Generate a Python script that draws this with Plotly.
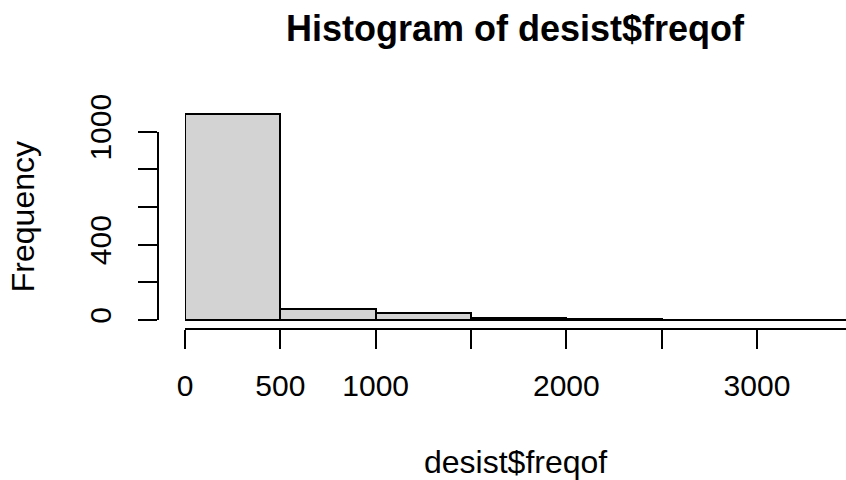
import plotly.graph_objects as go

# Data
bin_starts = [0, 500, 1000, 1500, 2000, 2500, 3000]
bin_width = 500
counts = [1092, 58, 37, 9, 6, 2, 1]

x_tickvals = [0, 500, 1000, 1500, 2000, 2500, 3000, 3500]
x_ticktext = ["0", "500", "1000", "", "2000", "", "3000", ""]
y_tickvals = [0, 200, 400, 600, 800, 1000]
y_ticktext = ["0", "", "400", "", "", "1000"]

title = "Histogram of desist$freqof"
x_title = "desist$freqof"
y_title = "Frequency"

W, H = 846, 480
FONT = "Liberation Sans, Arial, Helvetica, sans-serif"

# pixel geometry
x0_px = 185.0          # data x=0
px_per_x = 95.33 / 500
y0_px = 320.0          # data y=0
px_per_y = (320.0 - 131.7) / 1000
axis_line_px = 327.5   # bottom of main plot area (x-axis line)
top_px = 100.0

x_range = [0, (W - x0_px) / px_per_x]
y_range = [-(axis_line_px - y0_px) / px_per_y, (y0_px - top_px) / px_per_y]

centers = [s + bin_width / 2 for s in bin_starts]

fig = go.Figure()
fig.add_trace(go.Bar(
    x=centers, y=counts, width=[bin_width] * len(centers),
    marker=dict(color="#D3D3D3", line=dict(color="black", width=2)),
    showlegend=False, hoverinfo="skip",
))
# dummy trace for the detached R-style y axis
fig.add_trace(go.Scatter(x=[None], y=[None], xaxis="x", yaxis="y2",
                         showlegend=False, hoverinfo="skip"))

fig.update_layout(
    template="none",
    width=W, height=H,
    margin=dict(l=0, r=0, t=0, b=0, pad=0),
    paper_bgcolor="white", plot_bgcolor="rgba(0,0,0,0)",
    bargap=0,
    font=dict(family=FONT, color="black", size=30),
    xaxis=dict(
        domain=[x0_px / W, 1.0], range=x_range,
        tickvals=x_tickvals, ticktext=x_ticktext,
        ticks="outside", ticklen=19, tickwidth=2, tickcolor="black",
        showline=True, linewidth=2, linecolor="black",
        showgrid=False, zeroline=False, automargin=False,
        tickfont=dict(size=30, family=FONT, color="black"),
        ticklabelstandoff=11,
        anchor="y",
    ),
    yaxis=dict(
        domain=[(H - axis_line_px) / H, (H - top_px) / H], range=y_range,
        visible=False, showgrid=False, zeroline=False, automargin=False,
    ),
    yaxis2=dict(
        domain=[(H - y0_px) / H, (H - (y0_px - 1000 * px_per_y)) / H],
        range=[0, 1000],
        anchor="free", position=157.5 / W, side="left",
        tickvals=y_tickvals, ticktext=y_ticktext,
        ticks="outside", ticklen=19, tickwidth=2, tickcolor="black",
        showline=True, linewidth=2, linecolor="black",
        showgrid=False, zeroline=False, automargin=False,
        tickangle=-90,
        tickfont=dict(size=30, family=FONT, color="black"),
        ticklabelstandoff=15,
    ),
    annotations=[
        dict(text="<b>" + title + "</b>", x=(x0_px + W) / 2 / W, y=(H - 28.5) / H,
             xref="paper", yref="paper", xanchor="center", yanchor="middle",
             showarrow=False, font=dict(size=36, family=FONT, color="black")),
        dict(text=x_title, x=(x0_px + W) / 2 / W, y=(H - 461.6) / H,
             xref="paper", yref="paper", xanchor="center", yanchor="middle",
             showarrow=False, font=dict(size=32, family=FONT, color="black")),
        dict(text=y_title, x=22.5 / W, y=(H - 216.7) / H, textangle=-90,
             xref="paper", yref="paper", xanchor="center", yanchor="middle",
             showarrow=False, font=dict(size=32, family=FONT, color="black")),
    ],
)

fig.write_html("out.html")
